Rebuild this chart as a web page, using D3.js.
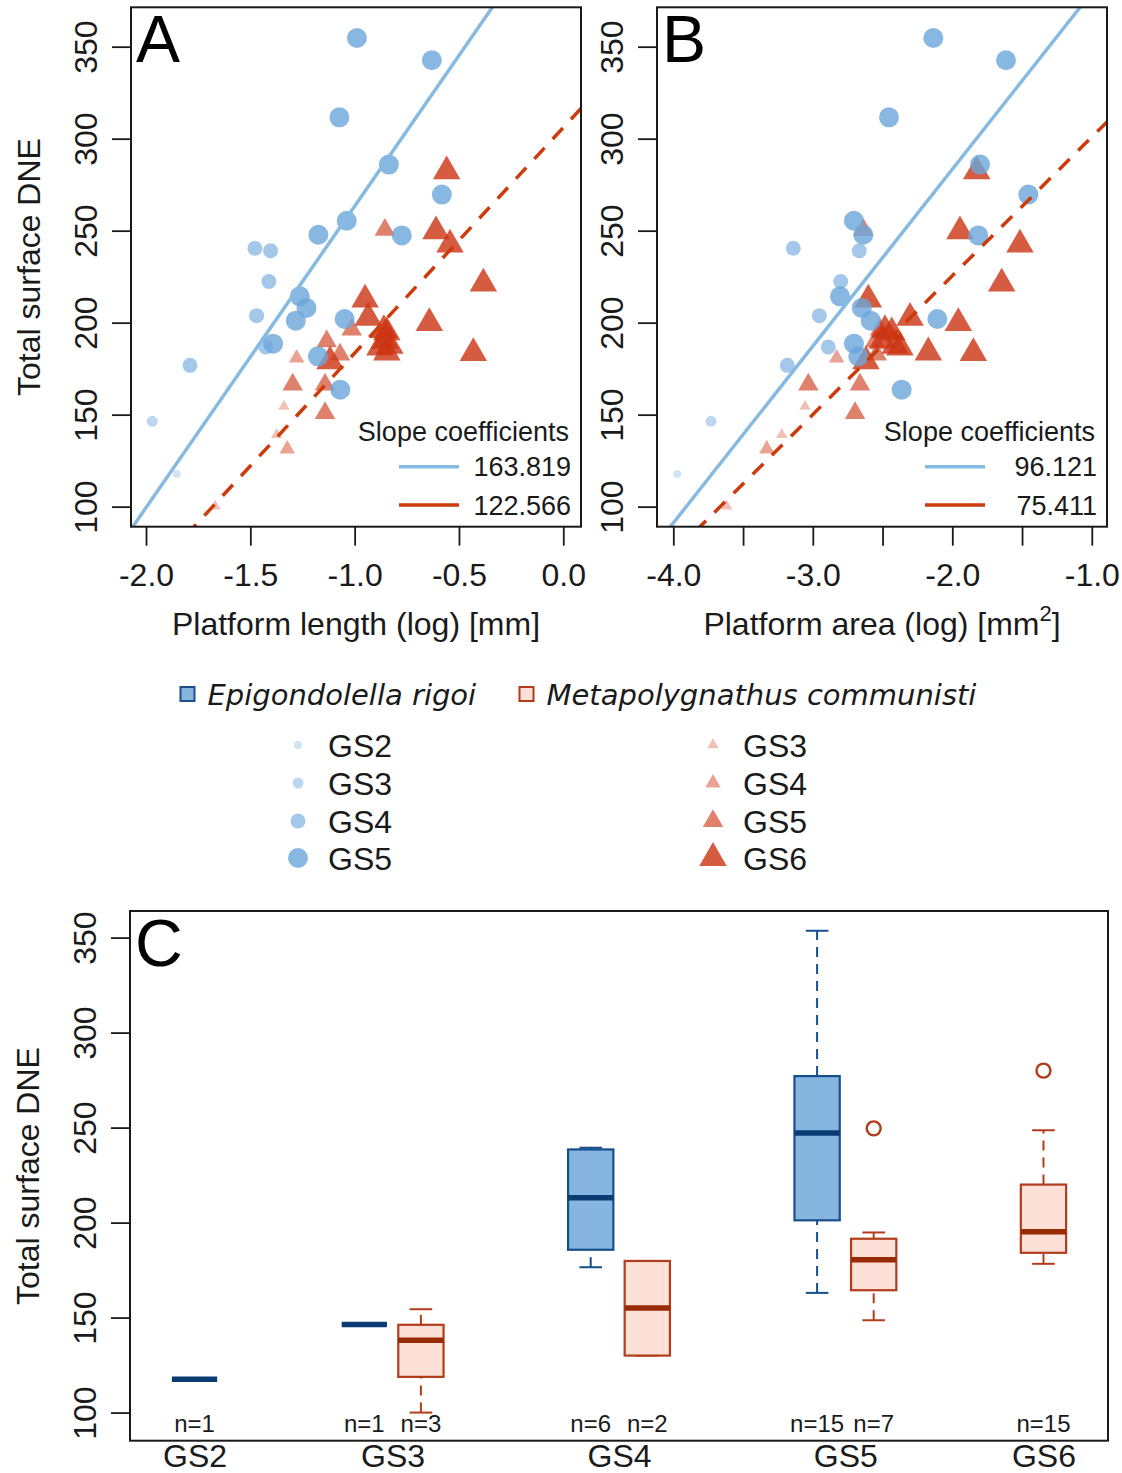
<!DOCTYPE html>
<html>
<head>
<meta charset="utf-8">
<script src="https://cdn.jsdelivr.net/npm/d3@7"></script>
<style>
  body { margin: 0; background: #fff; }
  svg { font-family: "Liberation Sans", Arial, sans-serif; }
</style>
</head>
<body>
<div id="fig"></div>
<script>
// ---- data: Epigondolella rigoi (circles)
var rigoiStage = ["GS5","GS5","GS5","GS5","GS5","GS5","GS5","GS5","GS4","GS4","GS4","GS5","GS5","GS4","GS5","GS5","GS5","GS4","GS5","GS4","GS5","GS3","GS2"];
var rigoiDNE = [354.7,342.6,311.6,285.9,269.6,255.4,247.8,247.4,240.4,239.1,222.4,214.3,208.0,203.8,202.0,201.1,188.6,186.8,181.7,176.8,163.6,146.4,117.8];
var rigoiLength = [-0.989,-0.630,-1.073,-0.836,-0.582,-1.038,-1.174,-0.774,-1.478,-1.403,-1.411,-1.263,-1.231,-1.470,-1.048,-1.282,-1.391,-1.426,-1.176,-1.789,-1.069,-1.970,-1.853];
var rigoiArea = [-2.136,-1.615,-2.454,-1.801,-1.455,-2.705,-2.638,-1.814,-3.140,-2.667,-2.800,-2.805,-2.649,-2.953,-2.107,-2.585,-2.705,-2.889,-2.674,-3.183,-2.363,-3.730,-3.971];

// ---- data: Metapolygnathus communisti (triangles)
var commStage = ["GS6","GS5","GS6","GS6","GS6","GS6","GS6","GS6","GS5","GS6","GS6","GS6","GS5","GS6","GS6","GS6","GS6","GS5","GS4","GS6","GS5","GS5","GS3","GS5","GS3","GS4","GS3"];
var commDNE = [282.2,250.5,249.6,242.4,221.2,212.5,202.6,199.8,196.2,196.0,194.7,190.1,189.8,187.4,186.5,183.8,183.5,182.6,180.8,179.0,166.3,166.3,154.5,150.9,139.1,131.3,100.2];
var commLength = [-0.559,-0.855,-0.610,-0.543,-0.383,-0.950,-0.935,-0.642,-1.014,-0.860,-0.846,-0.855,-1.134,-0.831,-0.879,-0.846,-0.431,-1.070,-1.278,-1.118,-1.297,-1.142,-1.339,-1.142,-1.374,-1.323,-1.669];
var commArea = [-1.825,-2.638,-1.945,-1.515,-1.646,-2.602,-2.303,-1.957,-2.518,-2.483,-2.434,-2.500,-2.554,-2.411,-2.375,-2.172,-1.849,-2.542,-2.829,-2.619,-3.032,-2.662,-3.056,-2.697,-3.223,-3.330,-3.617];

var rigoiStages = ["GS2","GS3","GS4","GS5"];
var commStages = ["GS3","GS4","GS5","GS6"];

// regression lines (rigoi, communisti)
var slopeLength = [163.819, 122.566];
var interceptLength = [427.1, 306.0];
var slopeArea = [96.121, 75.411];
var interceptArea = [475.6, 376.3];

// ---- boxplot summaries (panel C)
var groupLabels = ["GS2","GS3","GS4","GS5","GS6"];
var groupPos = [1, 4.5, 8.5, 12.5, 16];
var boxPos     = [1, 4, 5, 8, 9, 12, 13, 16];
var boxSpecies = ["rigoi","rigoi","comm","rigoi","comm","rigoi","comm","comm"];
var boxN       = [1, 1, 3, 6, 2, 15, 7, 15];
var boxLow     = [117.5, 146.3, 100.0, 176.5, 130.0, 163.0, 148.6, 178.3];
var boxQ1      = [117.5, 146.3, 118.8, 185.7, 130.0, 201.2, 164.4, 184.1];
var boxMedian  = [117.5, 146.3, 138.1, 213.1, 155.0, 247.1, 180.4, 195.2];
var boxQ3      = [117.5, 146.3, 146.2, 238.5, 179.8, 277.1, 191.5, 220.0];
var boxHigh    = [117.5, 146.3, 154.4, 239.4, 179.8, 353.6, 194.8, 248.6];
var outlierPos = [13, 16];
var outlierVal = [249.6, 280.0];

// ---- styles
var circleR = [4, 5.5, 7.5, 10];
var triSide = [11.5, 15.5, 20.5, 27.5];
var alphas = [0.3, 0.45, 0.62, 0.8];
var blueBase = "#6AA6DB", redBase = "#CC3311";
var blueLine = "#86BAE3", redLine = "#CD3A0C";
var ink = "#1a1a1a";

var W = 1122, H = 1473;
var svg = d3.select("#fig").append("svg")
  .attr("width", W)
  .attr("height", H);

var defs = svg.append("defs");

function triPath(side) {
  return d3.symbol().type(d3.symbolTriangle).size(Math.sqrt(3) / 4 * side * side)();
}
function circPath(r) {
  return d3.symbol().type(d3.symbolCircle).size(Math.PI * r * r)();
}

// shared y scale for A and B
var yS = d3.scaleLinear().domain([89.1, 371.4]).range([526.7, 7.3]);

function yAxis(g, scale, left) {
  var ax = g.append("g")
    .attr("transform", "translate(" + left + ",0)")
    .call(d3.axisLeft(scale).tickValues([100,150,200,250,300,350]).tickSize(19).tickSizeOuter(0));
  ax.select(".domain").remove();
  ax.selectAll("line").attr("stroke", ink).attr("stroke-width", 1.8);
  ax.selectAll("text")
    .attr("x", 0).attr("dy", null)
    .attr("transform", "translate(-34,0) rotate(-90)")
    .attr("text-anchor", "middle")
    .attr("fill", ink)
    .style("font-size", "32px")
    .style("font-family", "Liberation Sans, Arial, sans-serif");
}

function scatterPanel(cfg) {
  var g = svg.append("g");
  var x = d3.scaleLinear().domain(cfg.domain).range([cfg.left, cfg.right]);
  var top = 7.3, bottom = 526.7;

  defs.append("clipPath").attr("id", "clip" + cfg.letter)
    .append("rect").attr("x", cfg.left).attr("y", top)
    .attr("width", cfg.right - cfg.left).attr("height", bottom - top);

  var plot = g.append("g").attr("clip-path", "url(#clip" + cfg.letter + ")");

  // communisti triangles first, rigoi circles on top
  plot.selectAll("path.comm")
    .data(commDNE)
    .enter().append("path")
    .attr("class", "comm")
    .attr("d", function(d, i) { return triPath(triSide[commStages.indexOf(commStage[i])]); })
    .attr("transform", function(d, i) { return "translate(" + x(cfg.commX[i]) + "," + yS(d) + ")"; })
    .attr("fill", redBase)
    .attr("fill-opacity", function(d, i) { return alphas[commStages.indexOf(commStage[i])]; });

  plot.selectAll("path.rigoi")
    .data(rigoiDNE)
    .enter().append("path")
    .attr("class", "rigoi")
    .attr("d", function(d, i) { return circPath(circleR[rigoiStages.indexOf(rigoiStage[i])]); })
    .attr("transform", function(d, i) { return "translate(" + x(cfg.rigoiX[i]) + "," + yS(d) + ")"; })
    .attr("fill", blueBase)
    .attr("fill-opacity", function(d, i) { return alphas[rigoiStages.indexOf(rigoiStage[i])]; });

  // regression lines
  var x0 = cfg.domain[0], x1 = cfg.domain[1];
  [0, 1].forEach(function(k) {
    plot.append("line")
      .attr("x1", x(x0)).attr("y1", yS(cfg.intercepts[k] + cfg.slopes[k] * x0))
      .attr("x2", x(x1)).attr("y2", yS(cfg.intercepts[k] + cfg.slopes[k] * x1))
      .attr("stroke", k === 0 ? blueLine : redLine)
      .attr("stroke-width", 3.5)
      .attr("stroke-dasharray", k === 0 ? null : "15,12");
  });

  // frame
  g.append("rect")
    .attr("x", cfg.left).attr("y", top)
    .attr("width", cfg.right - cfg.left).attr("height", bottom - top)
    .attr("fill", "none").attr("stroke", ink).attr("stroke-width", 2);

  // x axis
  var xa = g.append("g")
    .attr("transform", "translate(0," + bottom + ")")
    .call(d3.axisBottom(x).tickValues(cfg.ticks).tickSize(19).tickSizeOuter(0).tickPadding(18)
      .tickFormat(function(d) { return cfg.showLabel(d) ? d.toFixed(1) : ""; }));
  xa.select(".domain").remove();
  xa.selectAll("line").attr("stroke", ink).attr("stroke-width", 1.8);
  xa.selectAll("text").attr("fill", ink)
    .style("font-size", "32px")
    .style("font-family", "Liberation Sans, Arial, sans-serif");

  // y axis
  yAxis(g, yS, cfg.left);

  // titles
  var t = g.append("text")
    .attr("x", (cfg.left + cfg.right) / 2).attr("y", 635)
    .attr("text-anchor", "middle").attr("fill", ink)
    .style("font-size", "32px")
    .text(cfg.title);
  if (cfg.sup) {
    t.append("tspan").attr("dy", -14).style("font-size", "22px").text(cfg.sup);
    t.append("tspan").attr("dy", 14).text("]");
  }
  if (cfg.yTitle) {
    g.append("text")
      .attr("transform", "translate(" + (cfg.left - 91) + ",267) rotate(-90)")
      .attr("text-anchor", "middle").attr("fill", ink)
      .style("font-size", "32px")
      .text(cfg.yTitle);
  }

  g.append("text")
    .attr("x", cfg.left + 5).attr("y", 62)
    .attr("fill", "#000")
    .style("font-size", "66px")
    .text(cfg.letter);

  // slope legend
  var lg = g.append("g");
  lg.append("text")
    .attr("x", cfg.right - 12).attr("y", 441)
    .attr("text-anchor", "end").attr("fill", ink)
    .style("font-size", "27px")
    .text("Slope coefficients");
  [0, 1].forEach(function(k) {
    var yy = 466.7 + k * 38.3;
    lg.append("line")
      .attr("x1", cfg.right - 182).attr("x2", cfg.right - 122)
      .attr("y1", yy).attr("y2", yy)
      .attr("stroke", k === 0 ? blueLine : redLine)
      .attr("stroke-width", 3.5);
    lg.append("text")
      .attr("x", cfg.right - 10).attr("y", yy + 9.7)
      .attr("text-anchor", "end").attr("fill", ink)
      .style("font-size", "27px")
      .text(cfg.slopes[k].toFixed(3));
  });
}

scatterPanel({
  letter: "A", left: 131, right: 581, domain: [-2.072, 0.085],
  ticks: [-2, -1.5, -1, -0.5, 0], showLabel: function() { return true; },
  rigoiX: rigoiLength, commX: commLength,
  slopes: slopeLength, intercepts: interceptLength,
  title: "Platform length (log) [mm]", yTitle: "Total surface DNE"
});

scatterPanel({
  letter: "B", left: 657, right: 1107, domain: [-4.117, -0.891],
  ticks: [-4, -3.5, -3, -2.5, -2, -1.5, -1], showLabel: function(d) { return Number.isInteger(d); },
  rigoiX: rigoiArea, commX: commArea,
  slopes: slopeArea, intercepts: interceptArea,
  title: "Platform area (log) [mm", sup: "2"
});

// ---- species / stage legend
var leg = svg.append("g");
var species = [
  {name: "Epigondolella rigoi", x: 187.5, fill: "#86B6E0", stroke: "#1C4E8A", stages: rigoiStages, sym: "c", sx: 298},
  {name: "Metapolygnathus communisti", x: 526.5, fill: "#FDE0D8", stroke: "#B03A1A", stages: commStages, sym: "t", sx: 713}
];
var rowY = [745, 783, 821, 858];
species.forEach(function(s) {
  leg.append("rect")
    .attr("x", s.x - 7).attr("y", 687).attr("width", 14).attr("height", 14)
    .attr("fill", s.fill).attr("stroke", s.stroke).attr("stroke-width", 2);
  leg.append("text")
    .attr("x", s.x + 20).attr("y", 704.5)
    .attr("fill", ink)
    .style("font-family", "DejaVu Sans, Verdana, sans-serif")
    .style("font-style", "italic")
    .style("font-size", "29px")
    .text(s.name);
  s.stages.forEach(function(st, i) {
    leg.append("path")
      .attr("d", s.sym === "c" ? circPath(circleR[i]) : triPath(triSide[i]))
      .attr("transform", "translate(" + s.sx + "," + rowY[i] + ")")
      .attr("fill", s.sym === "c" ? blueBase : redBase)
      .attr("fill-opacity", alphas[i]);
    leg.append("text")
      .attr("x", s.sx + 30).attr("y", rowY[i] + 11.5)
      .attr("fill", ink)
      .style("font-size", "32px")
      .text(st);
  });
});

// ---- panel C: boxplots
var cLeft = 130, cRight = 1108, cTop = 911, cBottom = 1440.7;
var xC = d3.scaleLinear().domain([-0.14, 17.14]).range([cLeft, cRight]);
var yC = d3.scaleLinear().domain([85.2, 364]).range([cBottom, cTop]);
var gc = svg.append("g");

var boxStyle = {
  rigoi: {fill: "#86B6E0", stroke: "#164F8D", med: "#0A3B72"},
  comm:  {fill: "#FDE0D8", stroke: "#B23C1C", med: "#992A06"}
};

boxPos.forEach(function(p, i) {
  var st = boxStyle[boxSpecies[i]];
  var cx = xC(p), bx0 = xC(p - 0.4), bx1 = xC(p + 0.4);
  var cx0 = xC(p - 0.2), cx1 = xC(p + 0.2);
  var b = gc.append("g");
  // whiskers
  [[boxQ3[i], boxHigh[i]], [boxLow[i], boxQ1[i]]].forEach(function(w) {
    if (w[1] - w[0] > 0.5) {
      b.append("line").attr("x1", cx).attr("x2", cx)
        .attr("y1", yC(w[0])).attr("y2", yC(w[1]))
        .attr("stroke", st.stroke).attr("stroke-width", 2)
        .attr("stroke-dasharray", "10,7");
    }
  });
  [boxLow[i], boxHigh[i]].forEach(function(v) {
    b.append("line").attr("x1", cx0).attr("x2", cx1)
      .attr("y1", yC(v)).attr("y2", yC(v))
      .attr("stroke", st.stroke).attr("stroke-width", 2);
  });
  if (boxQ3[i] > boxQ1[i]) {
    b.append("rect")
      .attr("x", bx0).attr("y", yC(boxQ3[i]))
      .attr("width", bx1 - bx0).attr("height", yC(boxQ1[i]) - yC(boxQ3[i]))
      .attr("fill", st.fill).attr("stroke", st.stroke).attr("stroke-width", 2.2);
  }
  b.append("line")
    .attr("x1", bx0).attr("x2", bx1)
    .attr("y1", yC(boxMedian[i])).attr("y2", yC(boxMedian[i]))
    .attr("stroke", st.med).attr("stroke-width", 5.5);
  gc.append("text")
    .attr("x", cx).attr("y", 1432)
    .attr("text-anchor", "middle").attr("fill", ink)
    .style("font-size", "24px")
    .text("n=" + boxN[i]);
});

gc.selectAll("circle.out")
  .data(outlierVal)
  .enter().append("circle")
  .attr("cx", function(d, i) { return xC(outlierPos[i]); })
  .attr("cy", function(d) { return yC(d); })
  .attr("r", 7)
  .attr("fill", "none")
  .attr("stroke", boxStyle.comm.stroke)
  .attr("stroke-width", 2.4);

gc.append("rect")
  .attr("x", cLeft).attr("y", cTop)
  .attr("width", cRight - cLeft).attr("height", cBottom - cTop)
  .attr("fill", "none").attr("stroke", ink).attr("stroke-width", 2);

yAxis(gc, yC, cLeft);

var xaC = gc.append("g")
  .attr("transform", "translate(0," + cBottom + ")")
  .call(d3.axisBottom(xC).tickValues(groupPos).tickSize(0)
    .tickFormat(function(d, i) { return groupLabels[i]; }));
xaC.select(".domain").remove();
xaC.selectAll("text")
  .attr("y", 26).attr("dy", null)
  .attr("fill", ink)
  .style("font-size", "32px")
  .style("font-family", "Liberation Sans, Arial, sans-serif");

gc.append("text")
  .attr("transform", "translate(39,1176) rotate(-90)")
  .attr("text-anchor", "middle").attr("fill", ink)
  .style("font-size", "32px")
  .text("Total surface DNE");

gc.append("text")
  .attr("x", cLeft + 5).attr("y", 966)
  .attr("fill", "#000")
  .style("font-size", "66px")
  .text("C");
</script>
</body>
</html>
